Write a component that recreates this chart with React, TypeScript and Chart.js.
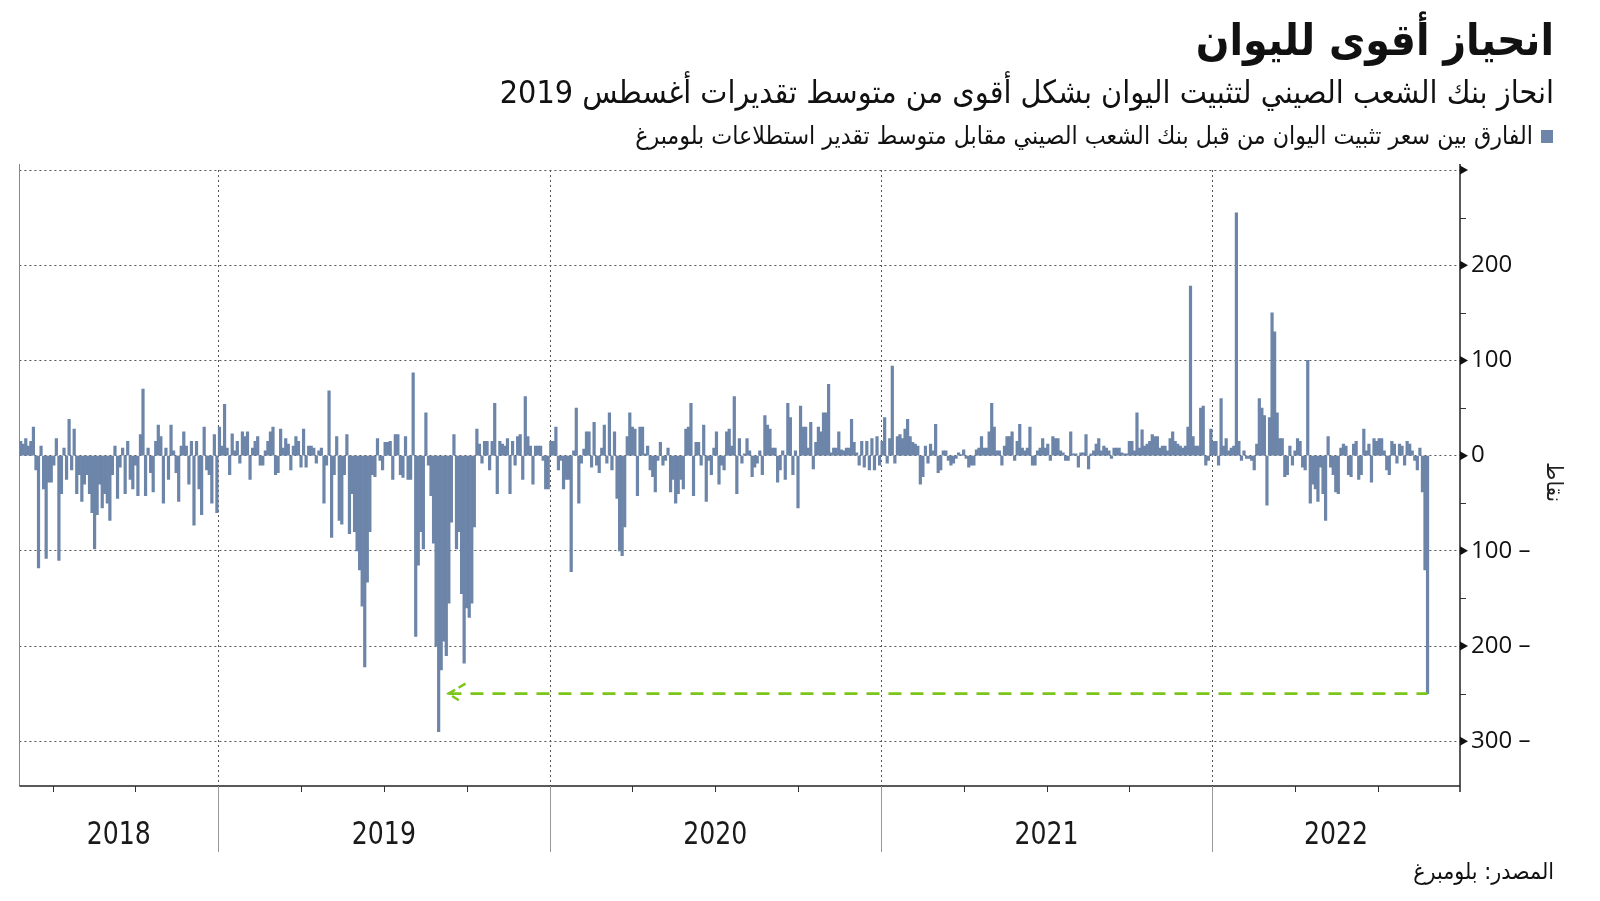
import React, { useEffect, useRef } from 'react';
import { Chart, registerables } from 'chart.js';

Chart.register(...registerables);

// ---------- DATA ----------
// Difference between PBOC yuan fixing and average Bloomberg estimate (points).
// Each array holds one year; every value is one bin of 1/130 of a year.
const BINS_PER_YEAR = 130;

// 2018 (partial year: late May → Dec 31)
const diff2018 = [
  15, 12, 18, 10, 15, 30, -15, -118, 10, -35,
  -108, -28, -28, -10, 18, -110, -40, 8, -25, 38,
  -15, 28, -40, -20, -48, -30, -20, -40, -60, -98,
  -62, -30, -55, -40, -50, -68, -20, 10, -45, -12,
  8, -40, 15, -25, -35, -10, -42, 22, 70, -42,
  8, -18, -38, 15, 32, 20, -50, 8, -25, 32,
  5, -18, -48, 10, 25, 10, -30, 15, -73, 15,
  -35, -62, 30, -15, -20, -50, 22, -60,
];

const diff2019 = [
  30, 10, 54, 8, -20, 23, 5, 15, -8, 25,
  20, 25, -25, 8, 15, 20, -10, -10, 5, 15,
  25, 30, -20, -18, 28, 8, 18, 12, -15, 10,
  20, 15, -12, 28, -12, 10, 10, 8, -8, 5,
  8, -50, -10, 68, -86, -20, 20, -68, -72, -20,
  22, -82, -40, -80, -100, -120, -158, -222, -133, -80,
  -20, -22, 18, -5, -15, 14, 14, 15, -25, 22,
  22, -20, -23, 20, -25, -25, 87, -190, -115, -80,
  -98, 45, -10, -42, -92, -200, -290, -225, -195, -210,
  -155, -70, 22, -98, -80, -145, -218, -160, -170, -155,
  -75, 28, 12, -8, 15, 15, -15, 15, 55, -40,
  15, 12, 10, 18, -40, 15, -10, 20, 22, -25,
  62, 20, 10, -30, 10, 10, 10, -5, -35, -35,
];

const diff2020 = [
  15, 15, 30, -15, -5, -35, -25, -25, -122, 5,
  50, -50, -8, 7, 25, 25, -12, 35, -10, -18,
  8, 32, -8, 45, -15, 25, -45, -100, -105, -75,
  20, 45, 30, 28, -42, 30, 30, 2, 10, -15,
  -22, -38, -5, 14, -10, -5, 8, -38, -25, -50,
  -40, -25, -35, 28, 30, 55, -42, 14, 14, -10,
  32, -48, -5, -20, 8, 25, -30, -10, -15, 25,
  28, 10, 62, -40, 18, -8, 2, 18, 5, -22,
  -12, -8, 5, -20, 42, 32, 28, 8, 8, -28,
  -15, 5, -25, 55, 40, -20, 5, -55, 52, 30,
  30, 8, 35, -14, 14, 30, 25, 45, 45, 75,
  3, 8, 8, 25, 6, 5, 8, 8, 38, 14,
  3, -10, 15, -12, 15, -15, 18, -15, 20, -10,
];

const diff2021 = [
  15, 40, -8, 18, 94, -8, 20, 22, 18, 28,
  38, 20, 14, 12, 10, -30, -22, 10, -8, 12,
  5, 33, -18, -15, 5, 5, -5, -10, -8, -3,
  3, 1, 6, -3, -12, -10, -10, 6, 8, 20,
  8, 8, 25, 55, 30, 5, 5, -10, 10, 20,
  20, 25, -5, 15, 33, 8, 5, 8, 30, -10,
  -10, 5, 8, 18, 8, 12, -5, 20, 18, 18,
  5, 3, -5, -5, 25, 2, 2, -12, 3, 3,
  22, -14, 2, 5, 12, 18, 5, 10, 8, 5,
  -3, 8, 8, 8, 3, 2, 2, 15, 15, 5,
  45, 8, 27, 10, 12, 15, 22, 20, 20, 8,
  10, 10, 5, 18, 25, 15, 12, 10, 8, 10,
  30, 178, 20, 10, 10, 50, 52, -10, -5, 28,
];

// 2022 (partial year: Jan 1 → late August)
const diff2022 = [
  15, 15, -10, 60, 10, 18, 5, 8, 10, 255,
  15, -5, 5, -3, -3, -5, -15, 12, 60, 50,
  42, -52, 40, 150, 130, 45, 18, 18, -22, -20,
  10, -10, 5, 18, 15, -12, -15, 100, -50, -30,
  -35, -48, -12, -40, -68, 20, -12, -20, -38, -40,
  8, 12, 10, -20, -22, 12, 15, -25, -20, 28,
  5, 12, -28, 18, 15, 18, 18, 5, -15, -20,
  15, 12, -8, 12, 10, -10, 15, 12, 5, -5,
  -15, 8, -38, -120, -250,
];

const YEAR_LABELS = ['2018', '2019', '2020', '2021', '2022'];
const Y_TICK_STEP = 100;
const Y_MIN = -347;
const Y_MAX = 300;
const X_MIN = 2018.4;
const X_MAX = 2022.748;
// date (fractional year) the green arrow points back to: mid-Sept 2019
const ARROW_TARGET = 2019.695;

const TITLE = 'انحياز أقوى لليوان';
const SUBTITLE = 'انحاز بنك الشعب الصيني لتثبيت اليوان بشكل أقوى من متوسط تقديرات أغسطس 2019';
const LEGEND = 'الفارق بين سعر تثبيت اليوان من قبل بنك الشعب الصيني مقابل متوسط تقدير استطلاعات بلومبرغ';
const Y_TITLE = 'نقاط';
const SOURCE = 'المصدر: بلومبرغ';

// ---------- STYLE ----------
const BAR_COLOR = '#6c85a9';
const GREEN = '#7cc51a';
const ARABIC_FONT = '"DejaVu Sans Condensed", "DejaVu Sans", sans-serif';

function buildBars() {
  const pts: { x: number; y: number }[] = [];
  diff2018.forEach((v, i) => {
    pts.push({ x: 2019 - (diff2018.length - i - 0.5) / BINS_PER_YEAR, y: v });
  });
  const full: [number, number[]][] = [
    [2019, diff2019],
    [2020, diff2020],
    [2021, diff2021],
    [2022, diff2022],
  ];
  full.forEach(([yr, arr]) => {
    arr.forEach((v, i) => pts.push({ x: yr + (i + 0.5) / BINS_PER_YEAR, y: v }));
  });
  return pts;
}

const decorPlugin = {
  id: 'decor',
  beforeDatasetsDraw(chart: any) {
    const { ctx, chartArea: ca, scales } = chart;
    const x = scales.x;
    ctx.save();
    ctx.strokeStyle = '#555';
    ctx.lineWidth = 1;
    ctx.setLineDash([2, 3]);
    YEAR_LABELS.forEach((lab) => {
      const yr = Number(lab);
      if (yr <= X_MIN) return;
      const px = Math.round(x.getPixelForValue(yr)) + 0.5;
      ctx.beginPath();
      ctx.moveTo(px, ca.top);
      ctx.lineTo(px, ca.bottom);
      ctx.stroke();
    });
    ctx.setLineDash([]);
    ctx.strokeStyle = '#888';
    ctx.beginPath();
    ctx.moveTo(Math.round(ca.left) + 0.5, ca.top - 6);
    ctx.lineTo(Math.round(ca.left) + 0.5, ca.bottom);
    ctx.stroke();
    ctx.restore();
  },
  afterDraw(chart: any) {
    const { ctx, chartArea: ca, scales } = chart;
    const x = scales.x;
    const y = scales.y;
    ctx.save();
    // x axis line
    ctx.strokeStyle = '#222';
    ctx.lineWidth = 1.5;
    ctx.beginPath();
    ctx.moveTo(ca.left, ca.bottom);
    ctx.lineTo(ca.right, ca.bottom);
    ctx.stroke();
    // y axis line
    ctx.beginPath();
    ctx.moveTo(ca.right, ca.top - 6);
    ctx.lineTo(ca.right, ca.bottom + 6);
    ctx.stroke();

    // quarter ticks & year separators
    YEAR_LABELS.forEach((lab) => {
      const yr = Number(lab);
      for (let q = 0; q < 4; q++) {
        const v = yr + q / 4;
        if (v <= X_MIN || v >= X_MAX) continue;
        const px = Math.round(x.getPixelForValue(v)) + 0.5;
        ctx.beginPath();
        if (q === 0) {
          ctx.strokeStyle = '#999';
          ctx.lineWidth = 1;
          ctx.moveTo(px, ca.bottom);
          ctx.lineTo(px, ca.bottom + 66);
        } else {
          ctx.strokeStyle = '#333';
          ctx.lineWidth = 1;
          ctx.moveTo(px, ca.bottom);
          ctx.lineTo(px, ca.bottom + 6);
        }
        ctx.stroke();
      }
    });

    // year labels
    ctx.fillStyle = '#1a1a1a';
    ctx.font = '28px "Liberation Sans Narrow", "DejaVu Sans Condensed", sans-serif';
    ctx.textAlign = 'center';
    ctx.textBaseline = 'middle';
    YEAR_LABELS.forEach((lab) => {
      const yr = Number(lab);
      const a = Math.max(x.getPixelForValue(yr), ca.left);
      const b = Math.min(x.getPixelForValue(yr + 1), ca.right);
      ctx.save();
      ctx.translate((a + b) / 2, ca.bottom + 50);
      ctx.scale(1, 1.12);
      ctx.fillText(lab, 0, 0);
      ctx.restore();
    });

    // y axis markers: triangles on major, small ticks on minor
    ctx.fillStyle = '#111';
    ctx.strokeStyle = '#333';
    ctx.lineWidth = 1;
    for (let v = -Y_TICK_STEP * 4; v <= Y_MAX; v += Y_TICK_STEP / 2) {
      if (v < Y_MIN) continue;
      const py = y.getPixelForValue(v);
      if (v % Y_TICK_STEP === 0) {
        ctx.beginPath();
        ctx.moveTo(ca.right, py - 4.5);
        ctx.lineTo(ca.right + 8, py);
        ctx.lineTo(ca.right, py + 4.5);
        ctx.closePath();
        ctx.fill();
      } else {
        ctx.beginPath();
        ctx.moveTo(ca.right, Math.round(py) + 0.5);
        ctx.lineTo(ca.right + 6, Math.round(py) + 0.5);
        ctx.stroke();
      }
    }

    // y axis title (rotated)
    ctx.save();
    ctx.translate(1553, (ca.top + ca.bottom) / 2 + 4);
    ctx.rotate(Math.PI / 2);
    ctx.font = '22px ' + ARABIC_FONT;
    ctx.fillStyle = '#222';
    ctx.textAlign = 'center';
    ctx.textBaseline = 'middle';
    ctx.fillText(Y_TITLE, 0, 0);
    ctx.restore();

    // arrow head at the dashed line's start
    const last = diff2022[diff2022.length - 1];
    const ax = x.getPixelForValue(ARROW_TARGET);
    const ay = y.getPixelForValue(last);
    ctx.strokeStyle = GREEN;
    ctx.lineWidth = 2.5;
    ctx.setLineDash([8, 4]);
    ctx.beginPath();
    ctx.moveTo(ax + 17, ay - 10);
    ctx.lineTo(ax, ay);
    ctx.lineTo(ax + 11, ay + 7);
    ctx.stroke();
    ctx.restore();
  },
};

export default function App() {
  const canvasRef = useRef<HTMLCanvasElement | null>(null);

  useEffect(() => {
    if (!canvasRef.current) return;
    const bars = buildBars();
    const lastBar = bars[bars.length - 1];
    const chart = new Chart(canvasRef.current, {
      type: 'bar',
      data: {
        datasets: [
          {
            type: 'line',
            data: [
              { x: ARROW_TARGET, y: lastBar.y },
              { x: lastBar.x, y: lastBar.y },
            ],
            borderColor: GREEN,
            borderWidth: 2.7,
            borderDash: [13, 9],
            pointRadius: 0,
            fill: false,
            order: 0,
          } as any,
          {
            type: 'bar',
            data: bars,
            backgroundColor: BAR_COLOR,
            borderWidth: 0,
            barPercentage: 1,
            categoryPercentage: 1,
            order: 1,
          } as any,
        ],
      },
      options: {
        animation: false,
        responsive: false,
        maintainAspectRatio: false,
        devicePixelRatio: 1,
        layout: { padding: { top: 170, left: 19.4, right: 0, bottom: 0 } },
        plugins: {
          legend: { display: false },
          tooltip: { enabled: false },
          title: { display: false },
        },
        scales: {
          x: {
            type: 'linear',
            min: X_MIN,
            max: X_MAX,
            offset: false,
            grid: { display: false, drawTicks: false },
            border: { display: false },
            ticks: { display: false },
            afterFit: (s: any) => {
              s.height = 901 - 786;
            },
          },
          y: {
            position: 'right',
            min: Y_MIN,
            max: Y_MAX,
            grid: { color: '#555', lineWidth: 1, drawTicks: false },
            border: { display: false, dash: [2, 3] },
            ticks: {
              stepSize: Y_TICK_STEP,
              includeBounds: false,
              padding: 11,
              color: '#111',
              font: { family: '"Open Sans", "DejaVu Sans", sans-serif', size: 24 },
              callback: (v: any) => {
                const n = Number(v);
                if (n >= Y_MAX) return '';
                return n < 0 ? `${-n} \u2013` : `${n}`;
              },
            },
            afterFit: (s: any) => {
              s.width = 140;
            },
          },
        },
      },
      plugins: [decorPlugin],
    } as any);
    return () => chart.destroy();
  }, []);

  return (
    <div
      style={{
        position: 'absolute',
        left: 0,
        top: 0,
        width: 1600,
        height: 901,
        background: '#fff',
        overflow: 'hidden',
      }}
    >
      <canvas
        ref={canvasRef}
        width={1600}
        height={901}
        style={{ position: 'absolute', left: 0, top: 0, width: 1600, height: 901 }}
      />
      <div
        style={{
          position: 'absolute',
          right: 46,
          top: 12,
          direction: 'rtl',
          whiteSpace: 'nowrap',
          font: `bold 44px ${ARABIC_FONT}`,
          color: '#111',
          lineHeight: '56px',
        }}
      >
        {TITLE}
      </div>
      <div
        style={{
          position: 'absolute',
          right: 46,
          top: 72,
          direction: 'rtl',
          whiteSpace: 'nowrap',
          font: `32px ${ARABIC_FONT}`,
          color: '#111',
          lineHeight: '40px',
        }}
      >
        {SUBTITLE}
      </div>
      <div
        style={{
          position: 'absolute',
          left: 1541,
          top: 130,
          width: 12,
          height: 13,
          background: BAR_COLOR,
        }}
      />
      <div
        style={{
          position: 'absolute',
          right: 67,
          top: 120,
          direction: 'rtl',
          whiteSpace: 'nowrap',
          font: `24.7px ${ARABIC_FONT}`,
          color: '#111',
          lineHeight: '32px',
        }}
      >
        {LEGEND}
      </div>
      <div
        style={{
          position: 'absolute',
          right: 46,
          top: 856,
          direction: 'rtl',
          whiteSpace: 'nowrap',
          font: `23px ${ARABIC_FONT}`,
          color: '#111',
          lineHeight: '30px',
        }}
      >
        {SOURCE}
      </div>
    </div>
  );
}
